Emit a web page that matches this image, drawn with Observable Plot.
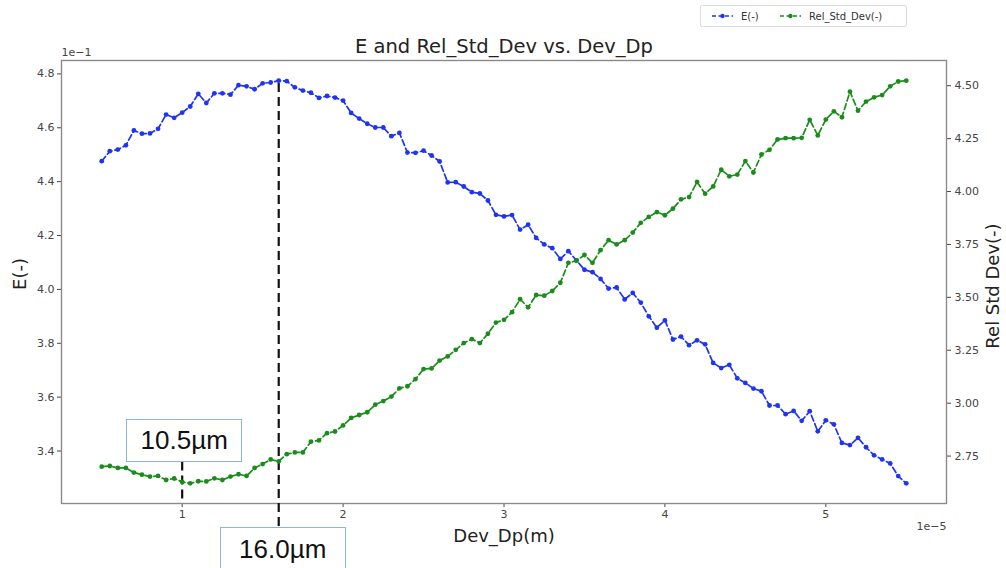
<!DOCTYPE html>
<html><head><meta charset="utf-8">
<script src="https://cdn.jsdelivr.net/npm/d3@7"></script>
<script src="https://cdn.jsdelivr.net/npm/@observablehq/plot@0.6"></script>
<style>
html,body{margin:0;padding:0;background:#fff;}
#wrap{position:relative;width:1006px;height:568px;overflow:hidden;font-family:"DejaVu Sans",sans-serif;}
.legend{position:absolute;left:700px;top:5px;width:207px;height:22px;border:1px solid #dcdcdc;border-radius:2px;background:#fff;box-sizing:border-box;font-size:10px;color:#333;}
.legend .it{position:absolute;top:0;height:20px;display:flex;align-items:center;}
.legend svg{margin-right:8px;}
.box{position:absolute;border:1.5px solid #8db4dc;background:#fff;font-family:"Liberation Sans",Arial,sans-serif;font-size:26px;color:#111;display:flex;align-items:center;justify-content:center;box-sizing:border-box;}
</style></head><body><div id="wrap"></div><script>
// Dev_Dp in units of 1e-5 m
const dp = [0.5,0.55,0.6,0.65,0.7,0.75,0.8,0.85,0.9,0.95,1.0,1.05,1.1,1.15,1.2,1.25,1.3,1.35,1.4,1.45,1.5,1.55,1.6,1.65,1.7,1.75,1.8,1.85,1.9,1.95,2.0,2.05,2.1,2.15,2.2,2.25,2.3,2.35,2.4,2.45,2.5,2.55,2.6,2.65,2.7,2.75,2.8,2.85,2.9,2.95,3.0,3.05,3.1,3.15,3.2,3.25,3.3,3.35,3.4,3.45,3.5,3.55,3.6,3.65,3.7,3.75,3.8,3.85,3.9,3.95,4.0,4.05,4.1,4.15,4.2,4.25,4.3,4.35,4.4,4.45,4.5,4.55,4.6,4.65,4.7,4.75,4.8,4.85,4.9,4.95,5.0,5.05,5.1,5.15,5.2,5.25,5.3,5.35,5.4,5.45,5.5];
// E(-) in units of 1e-1
const E = [4.476,4.513,4.519,4.535,4.590,4.578,4.579,4.596,4.649,4.637,4.656,4.679,4.726,4.692,4.728,4.728,4.723,4.758,4.754,4.743,4.765,4.768,4.775,4.773,4.750,4.738,4.730,4.711,4.718,4.712,4.701,4.655,4.634,4.615,4.601,4.601,4.569,4.581,4.508,4.507,4.515,4.497,4.475,4.397,4.398,4.382,4.361,4.356,4.330,4.277,4.271,4.276,4.222,4.240,4.191,4.167,4.153,4.113,4.142,4.108,4.073,4.064,4.039,4.003,4.007,3.963,3.987,3.951,3.900,3.858,3.885,3.814,3.825,3.793,3.811,3.796,3.727,3.708,3.720,3.670,3.653,3.632,3.622,3.569,3.569,3.537,3.549,3.512,3.548,3.473,3.514,3.499,3.430,3.422,3.449,3.414,3.384,3.369,3.354,3.307,3.280];
// Rel_Std_Dev(-)
const RSD = [2.700,2.703,2.694,2.694,2.672,2.662,2.653,2.656,2.637,2.644,2.628,2.621,2.631,2.630,2.645,2.637,2.653,2.664,2.656,2.694,2.712,2.734,2.725,2.759,2.767,2.767,2.818,2.824,2.858,2.866,2.895,2.930,2.944,2.957,2.993,3.010,3.031,3.070,3.080,3.114,3.161,3.164,3.201,3.221,3.252,3.284,3.303,3.284,3.328,3.381,3.394,3.430,3.491,3.453,3.511,3.508,3.530,3.569,3.663,3.673,3.700,3.663,3.723,3.770,3.750,3.770,3.806,3.852,3.880,3.903,3.888,3.919,3.963,3.974,4.045,3.990,4.024,4.103,4.072,4.080,4.144,4.090,4.175,4.197,4.246,4.252,4.252,4.254,4.339,4.265,4.340,4.379,4.351,4.472,4.382,4.425,4.445,4.456,4.497,4.520,4.524];

const xTicks = [1,2,3,4,5];
const eTicks = [3.4,3.6,3.8,4.0,4.2,4.4,4.6,4.8];
const rTicks = [2.75,3.00,3.25,3.50,3.75,4.00,4.25,4.50];

const markerX = [1.0, 1.6];
const markerLabels = ["10.5µm", "16.0µm"];
const markerFromE = [3.359, 4.764];
const markerToE = [null, 3.116];

const seriesNames = ["E(-)", "Rel_Std_Dev(-)"];
const colors = ["#1f33f2", "#1a8c1a"];

const pad = ext => { const p = 0.05 * (ext[1] - ext[0]); return [ext[0] - p, ext[1] + p]; };
const xDom = pad(d3.extent(dp)), eDom = pad(d3.extent(E)), rDom = pad(d3.extent(RSD));
const toE = r => eDom[0] + (r - rDom[0]) / (rDom[1] - rDom[0]) * (eDom[1] - eDom[0]);
const fromE = e => rDom[0] + (e - eDom[0]) / (eDom[1] - eDom[0]) * (rDom[1] - rDom[0]);

const rows = dp.map((x, i) => ({x, e: E[i], r: toE(RSD[i])}));
const markers = markerX.map((x, i) => ({x, y1: markerFromE[i], y2: markerToE[i] == null ? eDom[0] : markerToE[i]}));

const chart = Plot.plot({
  width: 1006, height: 568,
  marginLeft: 61, marginRight: 60, marginTop: 60, marginBottom: 65,
  style: {fontFamily: "DejaVu Sans", fontSize: "11px", color: "#444", background: "transparent", overflow: "visible"},
  x: {domain: xDom},
  y: {domain: eDom},
  marks: [
    Plot.axisX(xTicks, {tickSize: 4, tickPadding: 3, label: null, tickFormat: d => String(d)}),
    Plot.axisY(eTicks, {anchor: "left", tickSize: 4, tickPadding: 3, label: null, tickFormat: d => d.toFixed(1)}),
    Plot.axisY(rTicks.map(toE), {anchor: "right", tickSize: 4, tickPadding: 4, label: null, tickFormat: d => fromE(d).toFixed(2)}),
    Plot.frame({stroke: "#8a8a8a", strokeWidth: 1.4}),
    Plot.ruleX(markers, {x: "x", y1: "y1", y2: "y2", stroke: "#111", strokeWidth: 2.2, strokeDasharray: "9,5"}),
    Plot.line(rows, {x: "x", y: "e", stroke: colors[0], strokeWidth: 1.7, strokeDasharray: "6,3"}),
    Plot.dot(rows, {x: "x", y: "e", r: 2.4, fill: colors[0], stroke: "none"}),
    Plot.line(rows, {x: "x", y: "r", stroke: colors[1], strokeWidth: 1.7, strokeDasharray: "6,3"}),
    Plot.dot(rows, {x: "x", y: "r", r: 2.4, fill: colors[1], stroke: "none"}),
    Plot.text(["E and Rel_Std_Dev vs. Dev_Dp"], {frameAnchor: "top", dy: -14, lineAnchor: "middle", textAnchor: "middle", fontSize: 19.5, fill: "#222"}),
    Plot.text(["1e\u22121"], {frameAnchor: "top-left", dy: -8, lineAnchor: "middle", textAnchor: "start", fontSize: 11, fill: "#444"}),
    Plot.text(["1e\u22125"], {frameAnchor: "bottom-right", dy: 23, lineAnchor: "middle", textAnchor: "end", fontSize: 11, fill: "#444"}),
    Plot.text(["Dev_Dp(m)"], {frameAnchor: "bottom", dy: 33, lineAnchor: "middle", textAnchor: "middle", fontSize: 18, fill: "#222"}),
    Plot.text(["E(-)"], {frameAnchor: "left", dx: -41, dy: -8, lineAnchor: "middle", textAnchor: "middle", rotate: -90, fontSize: 18, fill: "#222"}),
    Plot.text(["Rel Std Dev(-)"], {frameAnchor: "right", dx: 47, dy: 4, lineAnchor: "middle", textAnchor: "middle", rotate: -90, fontSize: 18, fill: "#222"})
  ]
});

const wrap = document.getElementById("wrap");
wrap.appendChild(chart);

// legend
const legend = document.createElement("div");
legend.className = "legend";
const legendLeft = [11, 79];
seriesNames.forEach((name, i) => {
  const it = document.createElement("div");
  it.className = "it";
  it.style.left = legendLeft[i] + "px";
  it.innerHTML = `<svg width="21" height="10"><line x1="0" y1="5" x2="21" y2="5" stroke="${colors[i]}" stroke-width="1.6" stroke-dasharray="4,2.5"/><circle cx="10.5" cy="5" r="2.2" fill="${colors[i]}"/></svg><span>${name}</span>`;
  legend.appendChild(it);
});
wrap.appendChild(legend);

// annotation boxes
const sx = chart.scale("x");
const boxSpec = [{dx: 2.5, top: 419, w: 116, h: 43}, {dx: 4.5, top: 527, w: 126, h: 46}];
markerX.forEach((x, i) => {
  const b = document.createElement("div");
  b.className = "box";
  const s = boxSpec[i];
  b.style.left = (sx.apply(x) + s.dx - s.w / 2) + "px";
  b.style.top = s.top + "px";
  b.style.width = s.w + "px";
  b.style.height = s.h + "px";
  if (i === 1) { b.style.alignItems = "flex-start"; b.style.paddingTop = "6px"; }
  b.textContent = markerLabels[i];
  wrap.appendChild(b);
});
</script></body></html>
